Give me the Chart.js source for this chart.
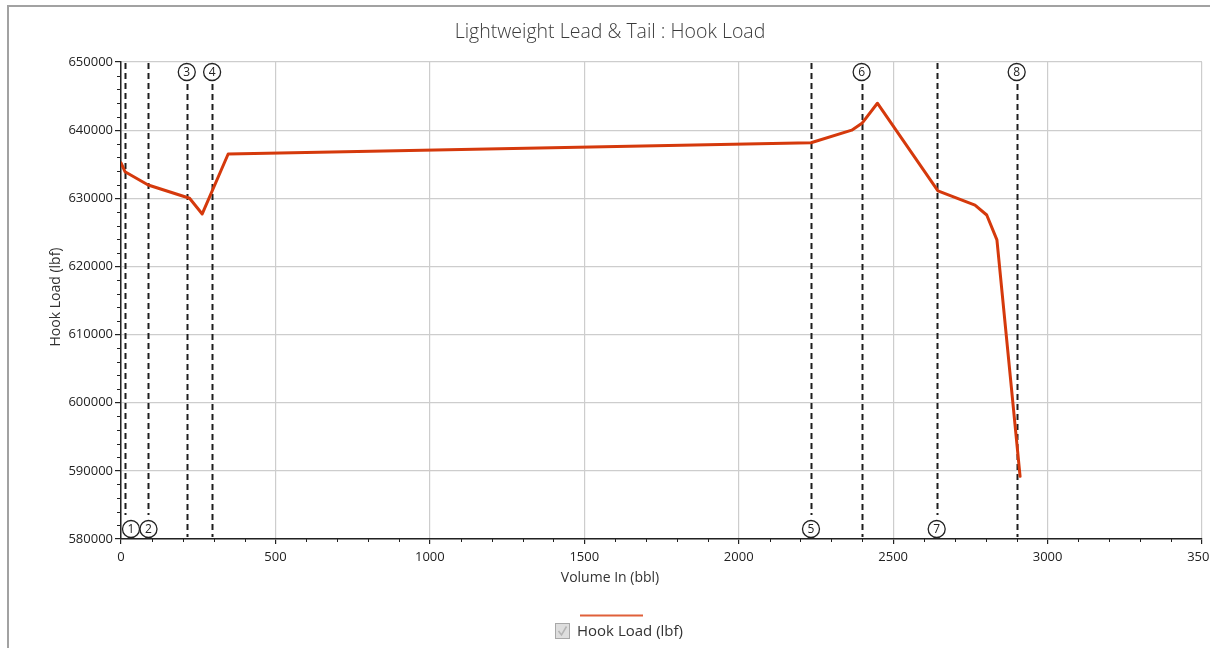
<!DOCTYPE html>
<html>
<head>
<meta charset="utf-8">
<title>Lightweight Lead &amp; Tail : Hook Load</title>
<script src="https://cdn.jsdelivr.net/npm/chart.js@4.4.1/dist/chart.umd.min.js"></script>
<style>
  html, body { margin: 0; padding: 0; background: #fff; }
  #wrap { position: relative; width: 1210px; height: 648px; overflow: hidden; }
  #frame { position: absolute; left: 7px; top: 5px; right: -4px; bottom: -4px;
           border-left: 2px solid #a2a2a2; border-top: 2px solid #a2a2a2; pointer-events: none; }
  canvas { display: block; }
</style>
</head>
<body>
<div id="wrap">
  <canvas id="chart" width="1210" height="648"></canvas>
  <div id="frame"></div>
</div>
<script>
// Hook load along pumped volume
const chartTitle = 'Lightweight Lead & Tail : Hook Load';
const seriesLabel = 'Hook Load (lbf)';
const xTitle = 'Volume In (bbl)';
const yTitle = 'Hook Load (lbf)';

const volumeIn = [0, 13, 88, 222, 263, 347, 2234, 2366, 2399, 2449, 2645, 2765, 2803, 2836, 2911];
const hookLoad = [635200, 633900, 631950, 630000, 627700, 636500, 638150, 640000, 641000, 643950, 631100, 629000, 627550, 623900, 589200];

// Event markers (volume at which each stage starts)
const markerVolume = [12, 89, 213, 295, 2234, 2398, 2641, 2900];
const markerLabel = ['1', '2', '3', '4', '5', '6', '7', '8'];

const xTicks = [0, 500, 1000, 1500, 2000, 2500, 3000, 3500];
const yTicks = [580000, 590000, 600000, 610000, 620000, 630000, 640000, 650000];

const FONT = '"Open Sans", "Noto Sans", "DejaVu Sans", sans-serif';
const LINE_COLOR = '#d5390c';

const decorPlugin = {
  id: 'decor',
  beforeDatasetsDraw(chart, args, opts) {
    const { ctx, chartArea: a, scales: { x } } = chart;
    // event marker lines
    ctx.save();
    ctx.strokeStyle = '#1e1e1e';
    ctx.lineWidth = 2;
    ctx.setLineDash([6, 4]);
    markerVolume.forEach((v, i) => {
      const px = Math.round(x.getPixelForValue(v)) + 0.5;
      const top = opts.sides[i] === 'top';
      ctx.beginPath();
      ctx.moveTo(px, top ? a.top + 22 : a.top + 1);
      ctx.lineTo(px, top ? a.bottom - 2 : a.bottom - 24);
      ctx.stroke();
    });
    ctx.restore();
  },
  afterDraw(chart, args, opts) {
    const { ctx, chartArea: a, scales: { x, y } } = chart;
    ctx.save();
    // minor ticks
    ctx.strokeStyle = '#222';
    ctx.lineWidth = 1;
    for (let v = 580000; v <= 650000; v += 2000) {
      if (v % 10000 === 0) continue;
      const py = Math.round(y.getPixelForValue(v)) + 0.5;
      ctx.beginPath(); ctx.moveTo(a.left - 4, py); ctx.lineTo(a.left, py); ctx.stroke();
    }
    for (let v = 0; v <= 3500; v += 100) {
      if (v % 500 === 0) continue;
      const px = Math.round(x.getPixelForValue(v)) + 0.5;
      ctx.beginPath(); ctx.moveTo(px, a.bottom); ctx.lineTo(px, a.bottom + 3); ctx.stroke();
    }

    // marker badges
    const r = 8.5;
    markerVolume.forEach((v, i) => {
      const top = opts.sides[i] === 'top';
      let cx = x.getPixelForValue(v);
      cx = Math.max(cx, a.left + r + 1.5);
      const cy = top ? a.top + 10 : a.bottom - 10;
      ctx.beginPath();
      ctx.arc(cx, cy, r, 0, Math.PI * 2);
      ctx.fillStyle = '#fff';
      ctx.fill();
      ctx.lineWidth = 1.3;
      ctx.strokeStyle = '#222';
      ctx.stroke();
      ctx.fillStyle = '#222';
      ctx.font = '12px ' + FONT;
      ctx.textAlign = 'center';
      ctx.textBaseline = 'middle';
      ctx.fillText(markerLabel[i], cx, cy + 0.5);
    });

    // titles
    ctx.fillStyle = '#3a3a3a';
    ctx.textAlign = 'center';
    ctx.textBaseline = 'middle';
    ctx.font = '300 19.5px ' + FONT;
    ctx.fillText(chartTitle, 610, 32);
    ctx.fillStyle = '#333';
    ctx.font = '14px ' + FONT;
    ctx.fillText(xTitle, 610, 578);
    ctx.save();
    ctx.translate(56, 297);
    ctx.rotate(-Math.PI / 2);
    ctx.fillText(yTitle, 0, 0);
    ctx.restore();

    // legend
    const ds = chart.data.datasets[0];
    ctx.strokeStyle = '#e0603a';
    ctx.lineWidth = 2;
    ctx.beginPath(); ctx.moveTo(580, 615.5); ctx.lineTo(643, 615.5); ctx.stroke();
    ctx.fillStyle = '#dedede';
    ctx.fillRect(555.5, 623.5, 14, 15);
    ctx.strokeStyle = '#a8a8a8';
    ctx.lineWidth = 1;
    ctx.strokeRect(555.5, 623.5, 14, 15);
    ctx.strokeStyle = '#b4b4b4';
    ctx.lineWidth = 1.5;
    ctx.beginPath(); ctx.moveTo(558.5, 631); ctx.lineTo(561.5, 635); ctx.lineTo(566.5, 626.5); ctx.stroke();
    ctx.fillStyle = '#333';
    ctx.textAlign = 'left';
    ctx.font = '15px ' + FONT;
    ctx.fillText(ds.label, 577, 632);
    ctx.restore();
  }
};

new Chart(document.getElementById('chart'), {
  type: 'line',
  data: {
    datasets: [{
      label: seriesLabel,
      data: volumeIn.map((v, i) => ({ x: v, y: hookLoad[i] })),
      borderColor: LINE_COLOR,
      backgroundColor: LINE_COLOR,
      borderWidth: 3,
      pointRadius: 0,
      tension: 0,
      borderJoinStyle: 'round',
      borderCapStyle: 'round'
    }]
  },
  options: {
    responsive: false,
    animation: false,
    devicePixelRatio: 1,
    layout: { padding: { left: 8, right: 8, top: 62, bottom: 0 } },
    plugins: {
      legend: { display: false },
      title: { display: false },
      tooltip: { enabled: false },
      decor: { sides: ['bottom', 'bottom', 'top', 'top', 'bottom', 'top', 'bottom', 'top'] }
    },
    scales: {
      x: {
        type: 'linear',
        min: xTicks[0],
        max: xTicks[xTicks.length - 1],
        afterBuildTicks: s => { s.ticks = xTicks.map(v => ({ value: v })); },
        afterFit: s => { s.height = 109; s.paddingLeft = 0; s.paddingRight = 0; },
        ticks: { color: '#222', font: { family: FONT, size: 13 }, padding: 5, maxRotation: 0, autoSkip: false, callback: v => String(v) },
        grid: { color: '#cdcdcd', lineWidth: 1.2, tickColor: '#222', tickLength: 5 },
        border: { color: '#222', width: 1.5 }
      },
      y: {
        type: 'linear',
        min: yTicks[0],
        max: yTicks[yTicks.length - 1],
        afterBuildTicks: s => { s.ticks = yTicks.map(v => ({ value: v })); },
        afterFit: s => { s.width = 113; s.paddingTop = 0; s.paddingBottom = 0; },
        ticks: { color: '#222', font: { family: FONT, size: 13 }, padding: 2, autoSkip: false, callback: v => String(v) },
        grid: { color: '#cdcdcd', lineWidth: 1.2, tickColor: '#222', tickLength: 6 },
        border: { color: '#222', width: 1.5 }
      }
    }
  },
  plugins: [decorPlugin]
});
</script>
</body>
</html>
